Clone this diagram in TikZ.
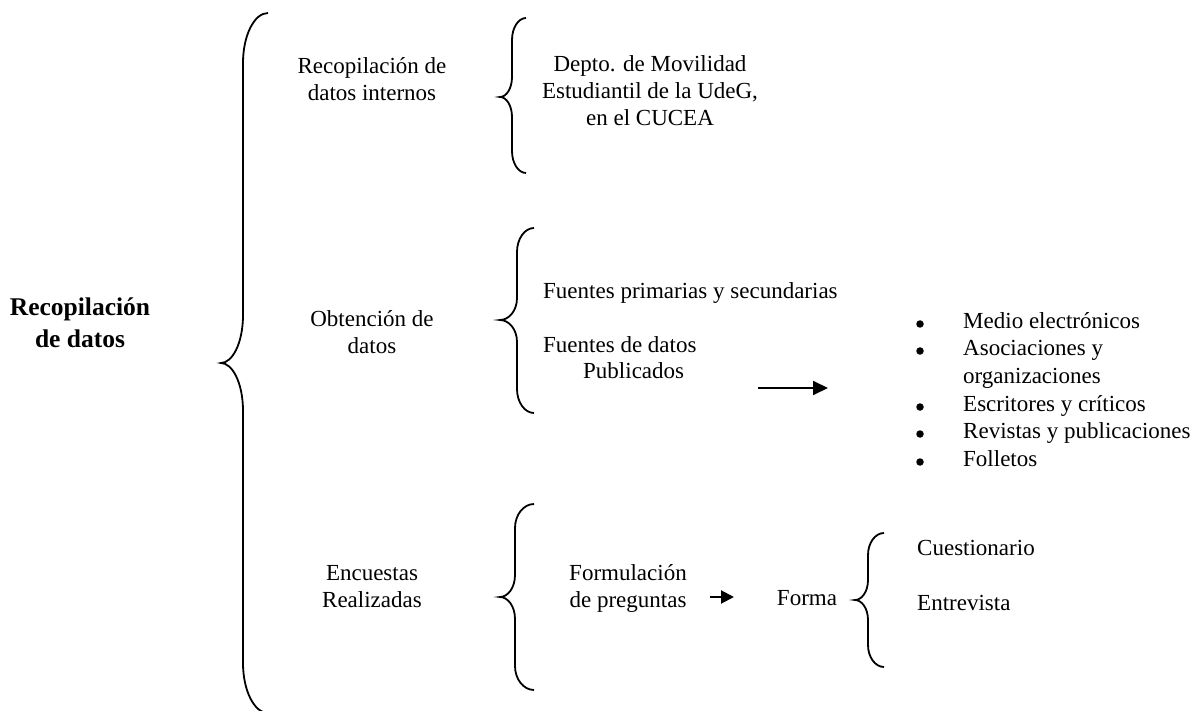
\documentclass[tikz,border=0pt]{standalone}
\usepackage{fontspec}
\setmainfont{Liberation Serif}
\usetikzlibrary{arrows.meta}
% #1 end x, #2 vertical x, #3 tip x, #4 top y, #5 tip y, #6 bottom y, #7 end radius, #8 tip radius
\newcommand{\drawcbrace}[8]{%
  \draw[bracestyle] (#1,#4) .. controls ({#1-0.55*(#1-#2)},#4) and (#2,{#4+0.45*#7}) .. (#2,{#4+#7})
    -- (#2,{#5-#8}) .. controls (#2,{#5-0.4*#8}) and ({#3+0.5*(#2-#3)},#5) .. (#3,#5)
    .. controls ({#3+0.5*(#2-#3)},#5) and (#2,{#5+0.4*#8}) .. (#2,{#5+#8})
    -- (#2,{#6-#7}) .. controls (#2,{#6-0.45*#7}) and ({#1-0.55*(#1-#2)},#6) .. (#1,#6);}
\begin{document}
\begin{tikzpicture}[x=1pt,y=-1pt,
  bracestyle/.style={line width=1.8pt},
  txt/.style={inner sep=0pt,font=\fontsize{23}{27}\selectfont,align=center},
  one/.style={txt,text height=16pt,text depth=5pt},
  ttl/.style={inner sep=0pt,font=\fontsize{25.5}{32}\selectfont\bfseries,align=center},
  arr/.style={line width=2pt,-{Triangle[length=15pt,width=14pt]}},
  dot/.style={circle,fill,inner sep=0pt,minimum size=7.5pt},
  bul/.style={inner sep=0pt,font=\fontsize{23}{27}\selectfont,text height=16pt,text depth=5pt}]
\useasboundingbox (0,0) rectangle (1200,711);
% braces
\drawcbrace{268}{243}{221}{13}{363}{713}{50}{48}
\drawcbrace{526}{512}{500}{18}{97}{173}{22}{20}
\drawcbrace{534}{517}{500}{228}{320}{413}{24}{22}
\drawcbrace{534}{515}{500}{504}{597}{690}{24}{22}
\drawcbrace{884}{868}{855}{533}{600}{667}{22}{20}
% texts
\node[ttl] (title) at (80,323) {Recopilación\\de datos};
\node[txt] (rdi) at (372,79) {Recopilación de\\datos internos};
\node[txt] (depto) at (650,91) {Depto. de Movilidad\\Estudiantil de la UdeG,\\en el CUCEA};
\node[txt] (obt) at (372,332) {Obtención de\\datos};
\node[one,anchor=west] (fps) at (543,293) {Fuentes primarias y secundarias};
\node[one,anchor=west] (fdd) at (543,347) {Fuentes de datos};
\node[one,anchor=west] (pub) at (583,373) {Publicados};
\node[txt] (enc) at (372,587) {Encuestas\\Realizadas};
\node[txt] (form) at (628,588) {Formulación\\de preguntas};
\node[one] (forma) at (807,600) {Forma};
\node[one,anchor=west] (cues) at (917,550) {Cuestionario};
\node[one,anchor=west] (entr) at (917,605) {Entrevista};
% bullet list
\foreach \yy/\nm in {324/b1,351/b2,407/b4,434/b5,462/b6}{
  \node[dot] (\nm) at (920,\yy) {};}
\node[bul,anchor=west] (l1) at (963,323) {Medio electrónicos};
\node[bul,anchor=west] (l2) at (963,350) {Asociaciones y};
\node[bul,anchor=west] (l3) at (963,378) {organizaciones};
\node[bul,anchor=west] (l4) at (963,406) {Escritores y críticos};
\node[bul,anchor=west] (l5) at (963,433) {Revistas y publicaciones};
\node[bul,anchor=west] (l6) at (963,461) {Folletos};
% arrows
\coordinate (a1s) at (758,388);
\coordinate (a1e) at (828,388);
\draw[arr] (a1s) -- (a1e);
\coordinate (a2s) at (710,597);
\coordinate (a2e) at (734,597);
\draw[arr,-{Triangle[length=13pt,width=13pt]}] (a2s) -- (a2e);
\end{tikzpicture}
\end{document}
